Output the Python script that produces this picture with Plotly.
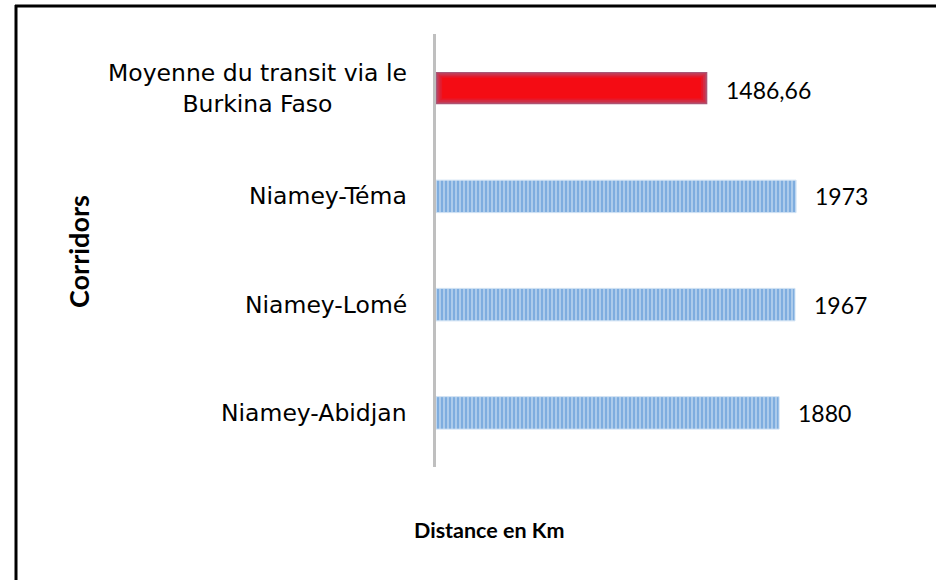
import plotly.graph_objects as go

# Corridor distances (km)
corridors = ["Moyenne du transit via le<br>Burkina Faso", "Niamey-Téma", "Niamey-Lomé", "Niamey-Abidjan"]
distances = [1486.66, 1973, 1967, 1880]
value_labels = [f"{v:g}".replace(".", ",") for v in distances]

W, H = 936, 580
L, T, R, B = 436, 34, 36, 113
PW, PH = W - L - R, H - T - B


def px(x):
    return (x - L) / PW


def py(y):
    return (H - B - y) / PH


fig = go.Figure()

avg_cat, avg_val = corridors[0], distances[0]
route_cats, route_vals = corridors[1:], distances[1:]

# Average bar: layered fills give a soft red glow
glow = [
    (0.30, 0, "#a85878"),
    (0.28, 6, "#c0405a"),
    (0.25, 14, "#d42a40"),
    (0.22, 24, "#e6182a"),
    (0.19, 34, "#f40c14"),
]
for w, inset, col in glow:
    fig.add_trace(go.Bar(
        y=[avg_cat], x=[avg_val - 2 * inset], base=[inset], orientation="h",
        width=w, marker=dict(color=col, line=dict(width=0)),
        hoverinfo="skip", showlegend=False,
    ))

# Route bars with vertical stripes
fig.add_trace(go.Bar(
    y=route_cats, x=route_vals, orientation="h", width=0.30,
    marker=dict(
        color="#b8d3ee",
        line=dict(width=1, color="#cfe1f3"),
        pattern=dict(shape="|", fgcolor="#4488cf", bgcolor="#b8d3ee",
                     size=4, solidity=0.6, fillmode="overlay"),
    ),
    showlegend=False,
))

annotations = []
# Category labels
for cat in corridors:
    annotations.append(dict(
        x=px(409), y=cat, xref="paper", yref="y", text=cat, showarrow=False,
        xanchor="right", yanchor="middle", align="center",
        font=dict(family="DejaVu Sans", size=23.5, color="#000000"),
    ))
# Value labels
for cat, v, lab in zip(corridors, distances, value_labels):
    annotations.append(dict(
        x=v, y=cat, xref="x", yref="y", text=lab, showarrow=False,
        xanchor="left", yanchor="middle", xshift=17, yshift=-2 if "," in lab else 0,
        font=dict(family="Lato", size=23, color="#000000"),
    ))
annotations.append(dict(
    x=px(489), y=py(530), xref="paper", yref="paper", text="<b>Distance en Km</b>",
    showarrow=False, xanchor="center", yanchor="middle",
    font=dict(family="Lato", size=21.5, color="#000000"),
))
annotations.append(dict(
    x=px(78), y=py(252), xref="paper", yref="paper", text="<b>Corridors</b>",
    showarrow=False, xanchor="center", yanchor="middle", textangle=-90,
    font=dict(family="Lato", size=27, color="#000000"),
))

# Outer frame (top and left edges)
shapes = [
    dict(type="line", xref="paper", yref="paper", x0=px(15), x1=px(940), y0=py(6), y1=py(6),
         line=dict(color="#000000", width=3)),
    dict(type="line", xref="paper", yref="paper", x0=px(16), x1=px(16), y0=py(5), y1=py(590),
         line=dict(color="#000000", width=3)),
]

fig.update_layout(
    width=W, height=H,
    margin=dict(l=L, r=R, t=T, b=B),
    paper_bgcolor="#ffffff", plot_bgcolor="#ffffff",
    barmode="overlay",
    xaxis=dict(range=[0, PW / 0.1825], visible=False),
    yaxis=dict(categoryorder="array", categoryarray=corridors, autorange="reversed",
               showticklabels=False, ticks="", showgrid=False, zeroline=False,
               showline=True, linecolor="#bfbfbf", linewidth=3),
    annotations=annotations, shapes=shapes,
)

fig.write_html("out.html")
